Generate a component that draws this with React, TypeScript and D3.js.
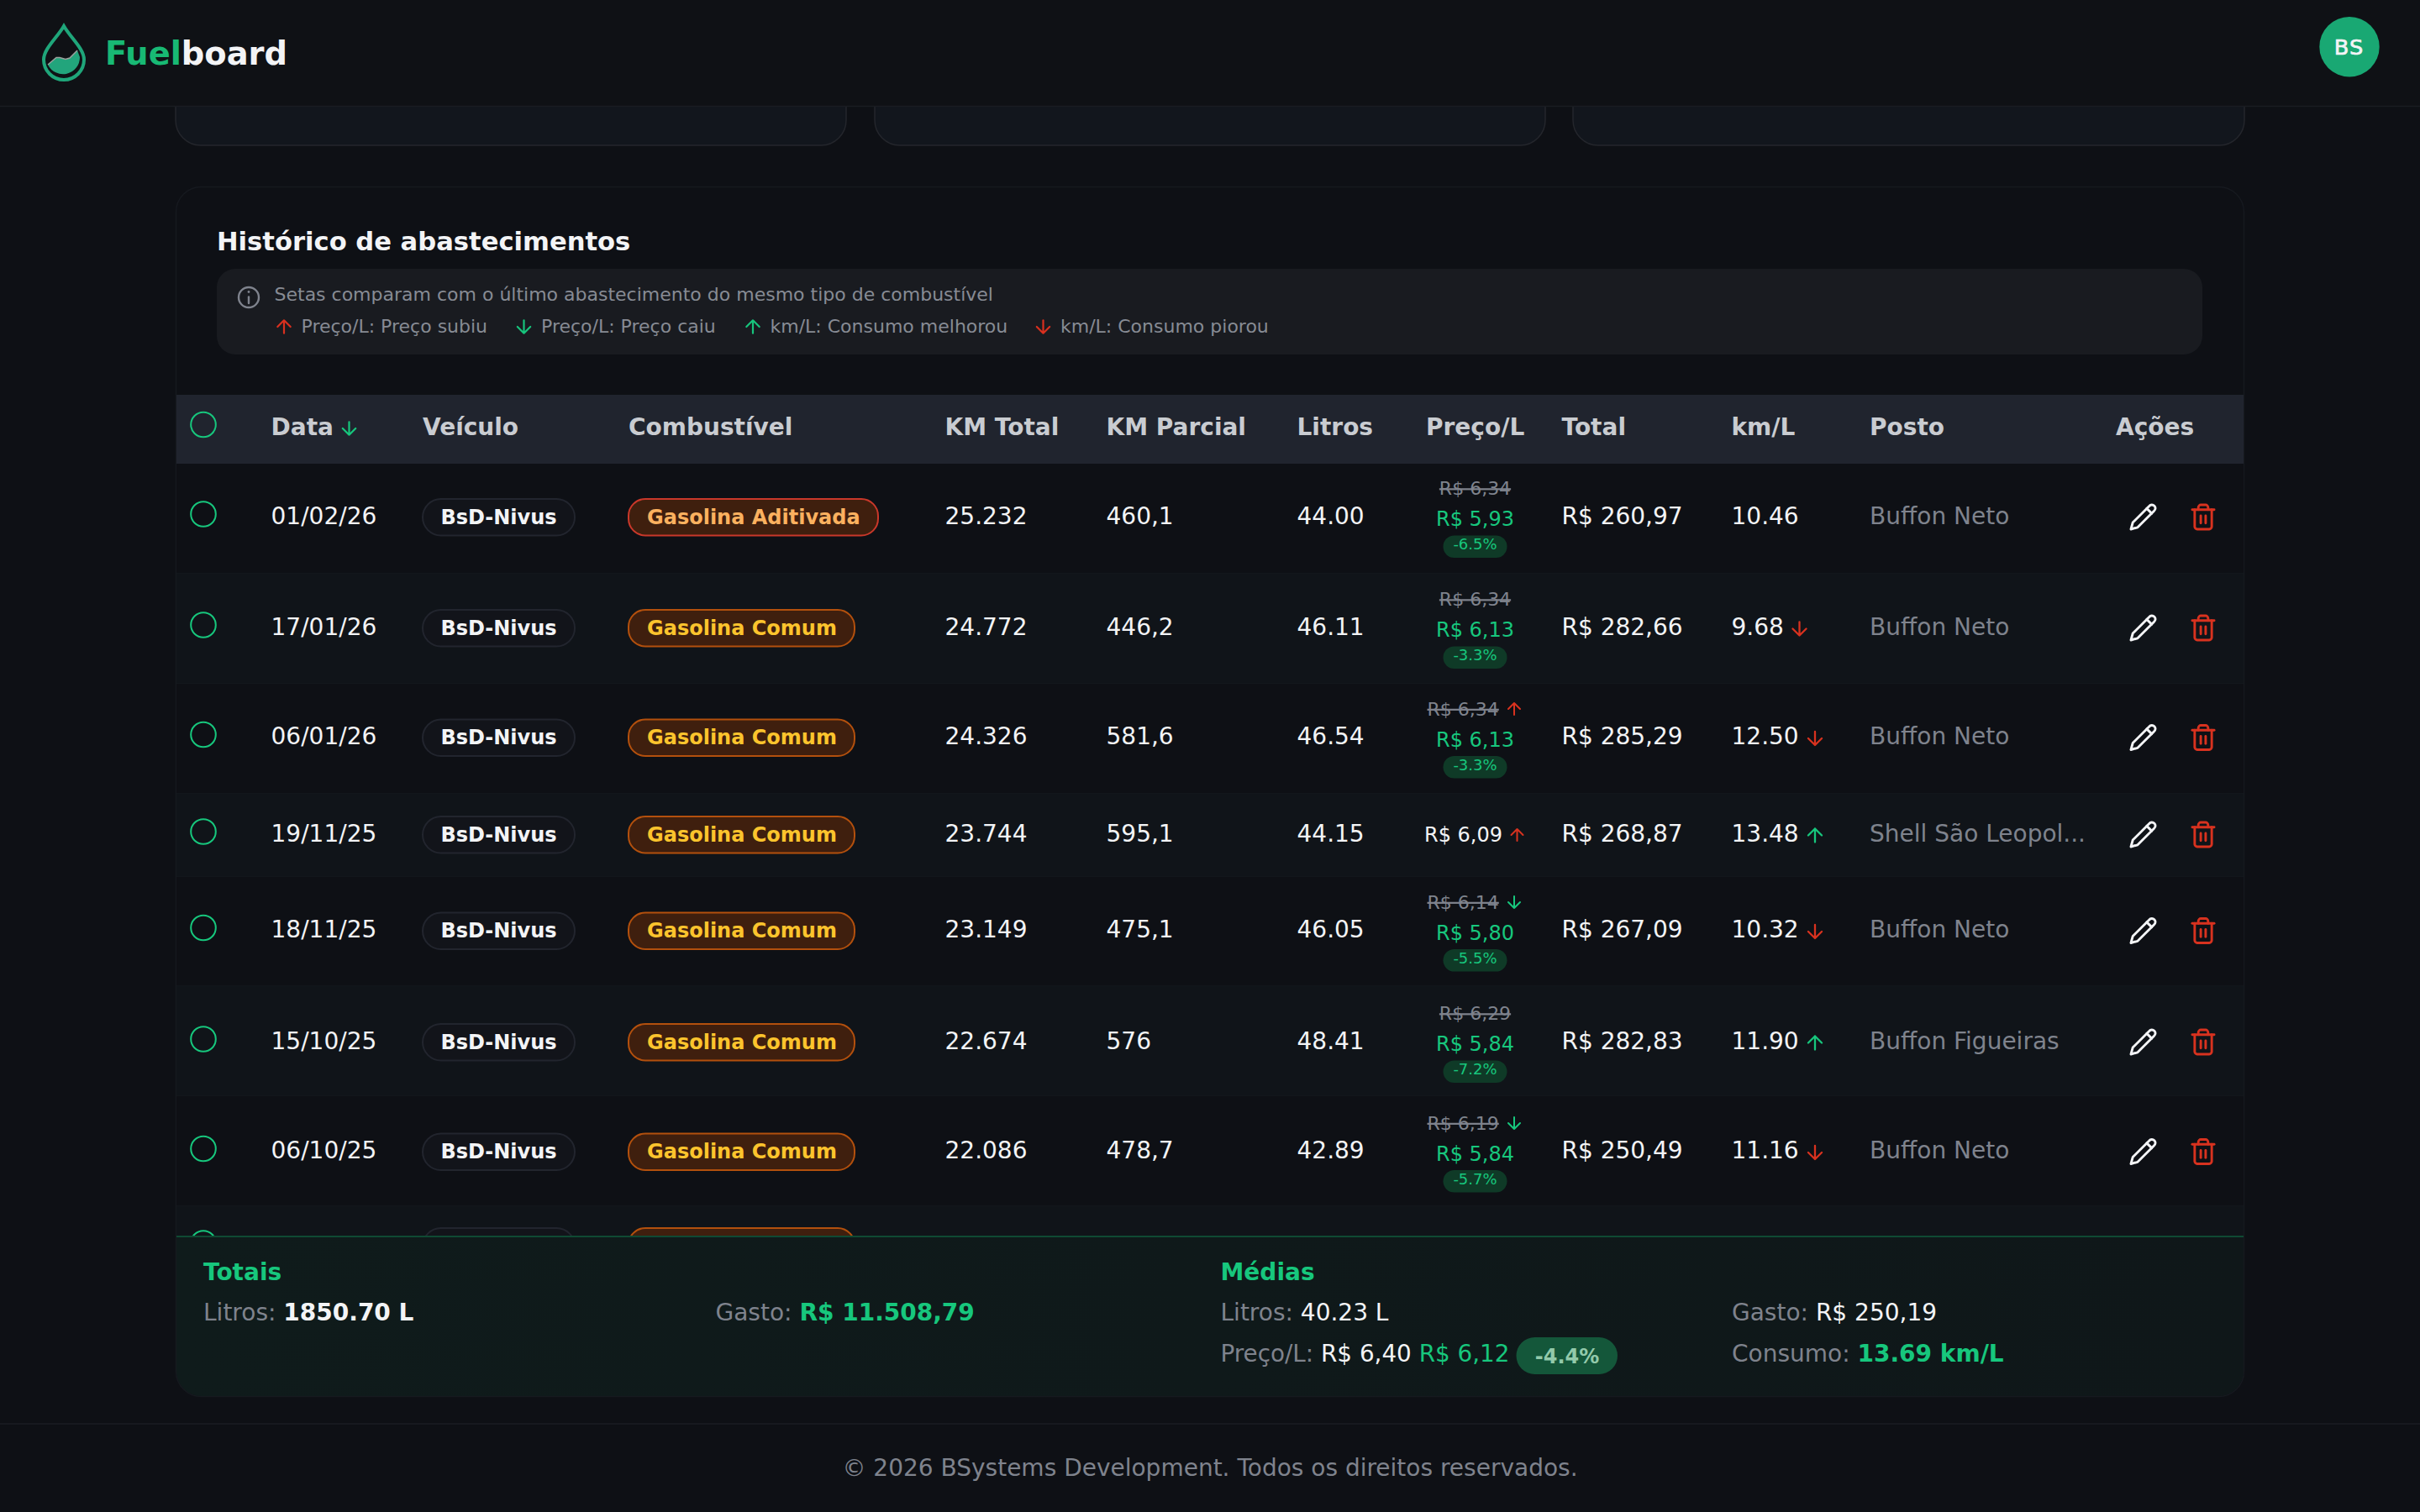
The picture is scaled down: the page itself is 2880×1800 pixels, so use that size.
import React from 'react';
import * as d3 from 'd3';

// table values
const dates = ['01/02/26', '17/01/26', '06/01/26', '19/11/25', '18/11/25', '15/10/25', '06/10/25', ''];
const vehicles = ['BsD-Nivus', 'BsD-Nivus', 'BsD-Nivus', 'BsD-Nivus', 'BsD-Nivus', 'BsD-Nivus', 'BsD-Nivus', 'BsD-Nivus'];
const fuels = ['Gasolina Aditivada', 'Gasolina Comum', 'Gasolina Comum', 'Gasolina Comum', 'Gasolina Comum', 'Gasolina Comum', 'Gasolina Comum', 'Gasolina Comum'];
const kmTotal = ['25.232', '24.772', '24.326', '23.744', '23.149', '22.674', '22.086', ''];
const kmParcial = ['460,1', '446,2', '581,6', '595,1', '475,1', '576', '478,7', ''];
const litros = ['44.00', '46.11', '46.54', '44.15', '46.05', '48.41', '42.89', ''];
const precoBomba = ['R$ 6,34', 'R$ 6,34', 'R$ 6,34', 'R$ 6,09', 'R$ 6,14', 'R$ 6,29', 'R$ 6,19', ''];
const precoPago = ['R$ 5,93', 'R$ 6,13', 'R$ 6,13', '', 'R$ 5,80', 'R$ 5,84', 'R$ 5,84', ''];
const desconto = ['-6.5%', '-3.3%', '-3.3%', '', '-5.5%', '-7.2%', '-5.7%', ''];
const precoSeta = ['', '', 'up', 'up', 'down', '', 'down', ''];
const totais = ['R$ 260,97', 'R$ 282,66', 'R$ 285,29', 'R$ 268,87', 'R$ 267,09', 'R$ 282,83', 'R$ 250,49', ''];
const kmL = ['10.46', '9.68', '12.50', '13.48', '10.32', '11.90', '11.16', ''];
const kmLSeta = ['', 'down', 'down', 'up', 'down', 'up', 'down', ''];
const postos = ['Buffon Neto', 'Buffon Neto', 'Buffon Neto', 'Shell São Leopol...', 'Buffon Neto', 'Buffon Figueiras', 'Buffon Neto', ''];

const columns = ['check', 'data', 'veiculo', 'combustivel', 'kmTotal', 'kmParcial', 'litros', 'preco', 'total', 'kmL', 'posto', 'acoes'];
const columnLabels = ['', 'Data', 'Veículo', 'Combustível', 'KM Total', 'KM Parcial', 'Litros', 'Preço/L', 'Total', 'km/L', 'Posto', 'Ações'];
const columnStarts = [242, 322.5, 503, 748, 1124.5, 1316.5, 1543.5, 1697, 1858.5, 2060.5, 2225, 2518];

const legendItems = ['Preço/L: Preço subiu', 'Preço/L: Preço caiu', 'km/L: Consumo melhorou', 'km/L: Consumo piorou'];
const legendDirs = ['up', 'down', 'up', 'down'];
const legendColors = ['#d9301f', '#17c47c', '#17c47c', '#d9301f'];
const legendStarts = [338, 623.5, 896, 1241.5];

const GREEN = '#17c77d';
const RED = '#d8321f';
const TEXT = '#f3f4f6';
const MUTED = '#7f838d';
const BG = '#0e1015';
const FONT = '"DejaVu Sans", sans-serif';

const xCol = d3.scaleOrdinal<string, number>().domain(columns).range(columnStarts);

// a row with the discount stack is taller than a plain one
const rowHeights = [131, 131, 131, 99, 130, 131, 131, 99];
// browser rounding pushes the cell content a little below the row middle
const rowShift = [0, 1, 0.5, 1, 1, 3, 2.5, 0];
const tableTop = 552;
const rowEdges = [tableTop, ...d3.cumsum(rowHeights).map(h => tableTop + h)];
const rowIndex = d3.range(dates.length);
const yRow = d3.scaleOrdinal<number, number>()
  .domain(rowIndex)
  .range(rowIndex.map(i => (rowEdges[i] + rowEdges[i + 1]) / 2 + rowShift[i]));

function arrowPath(dir: string) {
  // 24 unit icon box, same proportions as the app's arrow icons
  const p = d3.path();
  p.moveTo(12, 5);
  p.lineTo(12, 19);
  if (dir === 'up') {
    p.moveTo(5, 12);
    p.lineTo(12, 5);
    p.lineTo(19, 12);
  } else {
    p.moveTo(19, 12);
    p.lineTo(12, 19);
    p.lineTo(5, 12);
  }
  return p.toString();
}

const Arrow = ({ x, y, dir, color, s = 1.15 }: { x: number; y: number; dir: string; color: string; s?: number }) => (
  <path
    d={arrowPath(dir)}
    transform={`translate(${x - 12 * s},${y - 12 * s}) scale(${s})`}
    fill="none"
    stroke={color}
    strokeWidth={2}
    strokeLinecap="round"
    strokeLinejoin="round"
  />
);

const Pencil = ({ x, y }: { x: number; y: number }) => (
  <g transform={`translate(${x - 17.4},${y - 17.4}) scale(1.45)`} fill="none" stroke={TEXT} strokeWidth={2} strokeLinecap="round" strokeLinejoin="round">
    <path d="M17 3a2.85 2.83 0 1 1 4 4L7.5 20.5 2 22l1.5-5.5Z" />
    <path d="m15 5 4 4" />
  </g>
);

const Trash = ({ x, y }: { x: number; y: number }) => (
  <g transform={`translate(${x - 17.4},${y - 17.4}) scale(1.45)`} fill="none" stroke={RED} strokeWidth={2} strokeLinecap="round" strokeLinejoin="round">
    <path d="M3 6h18" />
    <path d="M19 6v14c0 1-1 2-2 2H7c-1 0-2-1-2-2V6" />
    <path d="M8 6V4c0-1 1-2 2-2h4c1 0 2 1 2 2v2" />
    <path d="M10 11v6" />
    <path d="M14 11v6" />
  </g>
);

const Txt = ({ x, y, size = 28, fill = TEXT, bold = false, anchor = 'start', strike = false, children }: any) => (
  <text
    x={x}
    y={y}
    fontSize={size}
    fill={fill}
    fontFamily={FONT}
    fontWeight={bold ? 700 : 400}
    textAnchor={anchor}
    textDecoration={strike ? 'line-through' : undefined}
  >
    {children}
  </text>
);

const PriceCell = ({ i, cy }: { i: number; cy: number }) => {
  const seta = precoSeta[i];
  const setaColor = seta === 'up' ? RED : GREEN;
  if (!precoBomba[i]) return null;
  if (!precoPago[i]) {
    return (
      <g>
        <Txt x={1695} y={cy + 6} size={24}>{precoBomba[i]}</Txt>
        {seta && <Arrow x={1805.5} y={cy - 1.5} dir={seta} color={setaColor} s={1} />}
      </g>
    );
  }
  const cx = 1755.5;
  return (
    <g>
      <Txt x={seta ? 1698.5 : cx} y={cy - 28.5} size={22} fill={MUTED} anchor={seta ? 'start' : 'middle'} strike>
        {precoBomba[i]}
      </Txt>
      {seta && <Arrow x={1802} y={cy - 36} dir={seta} color={setaColor} s={1} />}
      <Txt x={cx} y={cy + 8.5} size={24} fill={GREEN} anchor="middle">{precoPago[i]}</Txt>
      <rect x={cx - 38} y={cy + 20} width={76} height={26.5} rx={13.2} fill="#0f3a27" />
      <Txt x={cx} y={cy + 36.5} size={18} fill={GREEN} anchor="middle">{desconto[i]}</Txt>
    </g>
  );
};

const Row = ({ i }: { i: number }) => {
  const cy = yRow(i);
  const base = cy + 6;
  const aditivada = fuels[i] === 'Gasolina Aditivada';
  const seta = kmLSeta[i];
  const setaX = kmL[i].length > 4 ? 2160 : 2141.5;
  return (
    <g>
      <rect x={210} y={rowEdges[i]} width={2460} height={rowHeights[i]} fill={i % 2 ? '#101419' : BG} />
      <line x1={210} x2={2670} y1={rowEdges[i + 1]} y2={rowEdges[i + 1]} stroke="#15181e" strokeWidth={1.5} />
      <circle cx={xCol('check')} cy={cy - 5.5} r={14.8} fill="none" stroke={GREEN} strokeWidth={2} />
      <Txt x={xCol('data')} y={base}>{dates[i]}</Txt>
      <rect x={xCol('veiculo')} y={cy - 23.5} width={181} height={43.5} rx={21.7} fill="#12141a" stroke="#22252e" strokeWidth={2} />
      <Txt x={xCol('veiculo') + 90.5} y={cy + 6} size={24} bold anchor="middle">{vehicles[i]}</Txt>
      <rect
        x={xCol('combustivel')}
        y={cy - 23.5}
        width={aditivada ? 297 : 269}
        height={43.5}
        rx={20}
        fill="#3f1f0e"
        stroke={aditivada ? '#c9382a' : '#b3500d'}
        strokeWidth={2}
      />
      <Txt x={xCol('combustivel') + 22} y={cy + 6} size={24} bold fill={aditivada ? '#fbb15f' : '#fcc42d'}>{fuels[i]}</Txt>
      <Txt x={xCol('kmTotal')} y={base}>{kmTotal[i]}</Txt>
      <Txt x={xCol('kmParcial')} y={base}>{kmParcial[i]}</Txt>
      <Txt x={xCol('litros')} y={base}>{litros[i]}</Txt>
      <PriceCell i={i} cy={cy} />
      <Txt x={xCol('total')} y={base}>{totais[i]}</Txt>
      <Txt x={xCol('kmL')} y={base}>{kmL[i]}</Txt>
      {seta && <Arrow x={setaX} y={cy - 1} dir={seta} color={seta === 'up' ? GREEN : RED} />}
      <Txt x={xCol('posto')} y={base} fill={MUTED}>{postos[i]}</Txt>
      {dates[i] && <Pencil x={2550.5} y={cy - 2} />}
      {dates[i] && <Trash x={2622} y={cy - 2} />}
    </g>
  );
};

export default function App() {
  return (
    <svg
      width={2880}
      height={1800}
      viewBox="0 0 2880 1800"
      style={{ position: 'fixed', left: 0, top: 0, display: 'block' }}
    >
      <defs>
        <clipPath id="tableClip">
          <rect x={209} y={552} width={2462} height={919} />
        </clipPath>
        <clipPath id="panelClip">
          <rect x={210} y={223} width={2460} height={1439} rx={30} />
        </clipPath>
        <linearGradient id="totalsFill" x1="0" x2="1" y1="0" y2="0">
          <stop offset="0" stopColor="#0f1b1b" />
          <stop offset="1" stopColor="#0f1719" />
        </linearGradient>
      </defs>

      <rect width={2880} height={1800} fill={BG} />

      {/* summary cards scrolled under the top bar */}
      {[[209, 1007], [1041, 1839], [1872, 2671]].map(([a, b]) => (
        <rect key={a} x={a} y={-100} width={b - a} height={273} rx={30} fill="#12161d" stroke="#24262c" strokeWidth={1.5} />
      ))}

      {/* top bar */}
      <rect width={2880} height={126} fill="#0f1115" />
      <line x1={0} x2={2880} y1={126.5} y2={126.5} stroke="#1a1c22" strokeWidth={1.5} />
      <path d="M76 31 C68 45 52 58 52 71 A24 24 0 0 0 100 71 C100 58 84 45 76 31 Z" fill="none" stroke="#1fa67a" strokeWidth={4} strokeLinejoin="miter" />
      <path d="M57 77 L67 68.5 L71 68.5 L78 70.5 L83 69 L92 60 L95 68 A20 20 0 0 1 57 77 Z" fill="#22a57c" />
      <path d="M57 77 L67 68.5 L71 68.5 L78 70.5 L83 69 L92 60" fill="none" stroke="#9aa09c" strokeWidth={1.5} />
      <text x={125} y={76.8} fontSize={38.4} fontWeight={700} fontFamily={FONT} fill={TEXT}>
        <tspan fill="#18b974">Fuel</tspan>board
      </text>
      <circle cx={2796} cy={55.7} r={35.7} fill="#19a873" />
      <text x={2795.5} y={65} fontSize={25.6} fontFamily={FONT} textAnchor="middle" letterSpacing={1} fill={TEXT} stroke={TEXT} strokeWidth={0.7}>BS</text>

      {/* historico panel */}
      <rect x={209.5} y={222.5} width={2461} height={1440} rx={30} fill={BG} stroke="#16191f" strokeWidth={1.5} />
      <Txt x={258} y={297.5} size={30.6} bold>Histórico de abastecimentos</Txt>

      <rect x={258} y={320} width={2363} height={102} rx={22} fill="#191b20" />
      <circle cx={296} cy={354} r={12} fill="none" stroke={MUTED} strokeWidth={2.4} />
      <line x1={296} x2={296} y1={353.5} y2={361} stroke={MUTED} strokeWidth={2.4} strokeLinecap="round" />
      <circle cx={296} cy={347.5} r={1.4} fill={MUTED} />
      <Txt x={326.5} y={358.2} size={22} fill="#878b94">Setas comparam com o último abastecimento do mesmo tipo de combustível</Txt>
      {legendItems.map((t, i) => (
        <g key={t}>
          <Arrow x={legendStarts[i]} y={389} dir={legendDirs[i]} color={legendColors[i]} s={1.1} />
          <Txt x={legendStarts[i] + 20.5} y={396} size={22} fill="#878b94">{t}</Txt>
        </g>
      ))}

      {/* table head */}
      <rect x={210} y={470} width={2460} height={82} fill="#20242e" />
      {columns.map((c, i) => (
        columnLabels[i] && <Txt key={c} x={xCol(c)} y={518} bold fill="#c9ccd1">{columnLabels[i]}</Txt>
      ))}
      <circle cx={xCol('check')} cy={505.5} r={14.8} fill="none" stroke={GREEN} strokeWidth={2} />
      <Arrow x={415.5} y={510} dir="down" color={GREEN} s={1.1} />

      <g clipPath="url(#tableClip)">
        {rowIndex.map(i => <Row key={i} i={i} />)}
      </g>

      {/* totais / medias strip */}
      <g clipPath="url(#panelClip)">
        <rect x={210} y={1471} width={2460} height={191} fill="url(#totalsFill)" />
        <rect x={210} y={1471} width={2460} height={2} fill="#0f4a33" />
      </g>
      <Txt x={242} y={1524} bold fill={GREEN}>Totais</Txt>
      <text x={242} y={1571.7} fontSize={28} fontFamily={FONT} fill={MUTED}>
        Litros: <tspan fill={TEXT} fontWeight={700}>1850.70 L</tspan>
      </text>
      <text x={851.5} y={1571.7} fontSize={28} fontFamily={FONT} fill={MUTED}>
        Gasto: <tspan fill={GREEN} fontWeight={700}>R$ 11.508,79</tspan>
      </text>
      <Txt x={1452.5} y={1524} bold fill={GREEN}>Médias</Txt>
      <text x={1452.5} y={1571.7} fontSize={28} fontFamily={FONT} fill={MUTED}>
        Litros: <tspan fill={TEXT}>40.23 L</tspan>
      </text>
      <text x={1452.5} y={1620.7} fontSize={27.8} fontFamily={FONT} fill={MUTED}>
        Preço/L: <tspan fill={TEXT}>R$ 6,40</tspan> <tspan fill={GREEN}>R$ 6,12</tspan>
      </text>
      <rect x={1804.5} y={1592} width={120.5} height={44} rx={22} fill="#14573a" />
      <Txt x={1865} y={1622.5} size={24} bold anchor="middle" fill="#92c9aa">-4.4%</Txt>
      <text x={2061} y={1571.7} fontSize={28} fontFamily={FONT} fill={MUTED}>
        Gasto: <tspan fill={TEXT}>R$ 250,19</tspan>
      </text>
      <text x={2061} y={1620.5} fontSize={28} fontFamily={FONT} fill={MUTED}>
        Consumo: <tspan fill={GREEN} fontWeight={700}>13.69 km/L</tspan>
      </text>

      {/* footer */}
      <line x1={0} x2={2880} y1={1695} y2={1695} stroke="#17191f" strokeWidth={2} />
      <Txt x={1440} y={1756.5} anchor="middle" fill={MUTED}>© 2026 BSystems Development. Todos os direitos reservados.</Txt>
    </svg>
  );
}
